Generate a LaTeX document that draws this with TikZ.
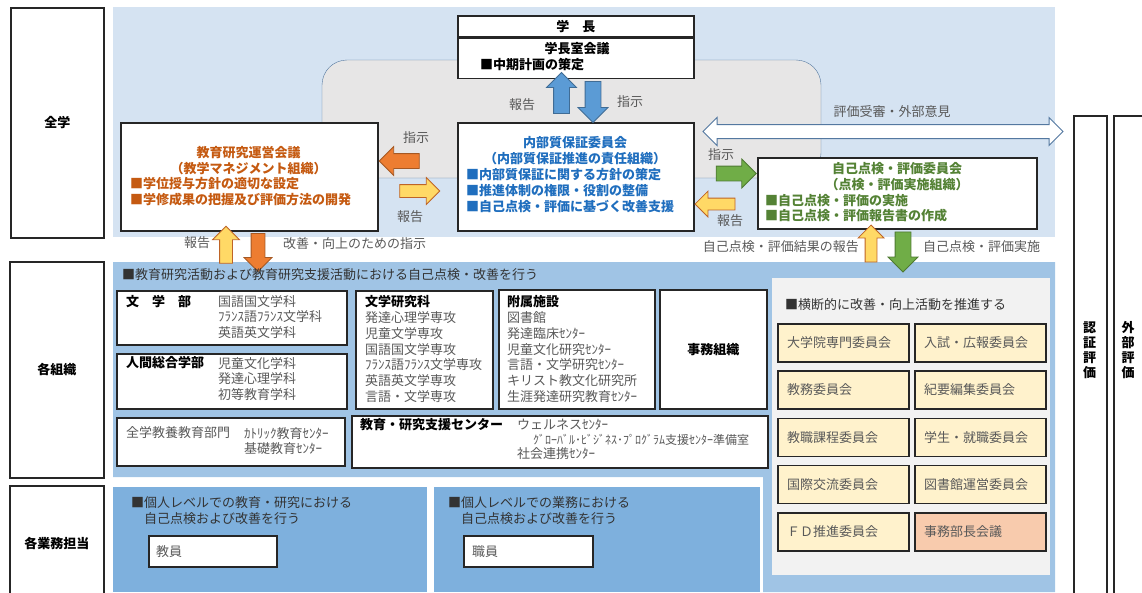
\documentclass[tikz,border=0pt]{standalone}
\usepackage{fontspec}
\setmainfont{Noto Sans CJK JP}
\usetikzlibrary{shapes.arrows,positioning}

\definecolor{zengakublue}{RGB}{213,227,242}
\definecolor{soshikiblue}{RGB}{160,196,229}
\definecolor{tantoublue}{RGB}{126,176,221}
\definecolor{hallgray}{RGB}{231,230,230}
\definecolor{panelgray}{RGB}{242,242,242}
\definecolor{rimblue}{RGB}{84,120,160}
\definecolor{uneiorange}{RGB}{197,90,17}
\definecolor{naibublue}{RGB}{31,110,190}
\definecolor{jikogreen}{RGB}{84,130,53}
\definecolor{notegray}{RGB}{89,89,89}
\definecolor{cream}{RGB}{255,242,204}
\definecolor{peach}{RGB}{248,203,173}
\definecolor{arrowblue}{RGB}{91,155,213}
\definecolor{arroworange}{RGB}{237,125,49}
\definecolor{arrowyellow}{RGB}{255,217,102}
\definecolor{arrowgreen}{RGB}{112,173,71}

\newcommand{\jsize}{\fontsize{13pt}{15.7pt}\selectfont}

\begin{document}
\begin{tikzpicture}[x=1pt,y=-1pt,
every node/.style={inner sep=0pt, font=\jsize},
sidebox/.style={draw=black!85, line width=1.5pt, fill=white, anchor=north west, font=\jsize\bfseries},
frame/.style={draw=black!85, line width=1.5pt, fill=white, anchor=north west},
cmtbox/.style={draw=black!85, line width=1.5pt, anchor=north west, minimum width=131, minimum height=38},
head/.style={font=\jsize\bfseries},
note/.style={text=notegray},
blockarrow/.style={single arrow, inner xsep=0pt, single arrow head extend=7pt, line width=0.8pt}
]
\useasboundingbox (0,0) rectangle (1142,592);

%Regions
\fill[zengakublue] (113,7) rectangle (1055,237);
\draw[rimblue, fill=hallgray, rounded corners=25pt] (322,60) rectangle (821,178);
\fill[soshikiblue] (113,262) -- (1055,262) -- (1055,592) -- (763,592) -- (763,477) -- (113,477) -- cycle;
\fill[tantoublue] (113,487) rectangle (427,592);
\fill[tantoublue] (434,487) rectangle (760,592);
\fill[panelgray] (772,278) rectangle (1050,575);

%Side labels
\node[sidebox, minimum width=93, minimum height=230] (zengaku) at (10,7) {全学};
\node[sidebox, minimum width=94, minimum height=216] (kakusoshiki) at (9,261) {各組織};
\node[sidebox, minimum width=94, minimum height=115] (kakutanto) at (9,485) {各業務担当};
\node[sidebox, minimum width=33, minimum height=490] (ninsho) at (1073,115) {};
\node[sidebox, minimum width=40, minimum height=490] (gaibuhyoka) at (1113,115) {};
\node[head, align=center, font=\fontsize{13pt}{15pt}\selectfont\bfseries] (ninshotext) at (1089.5,350) {認\\証\\評\\価};
\node[head, align=center, font=\fontsize{13pt}{15pt}\selectfont\bfseries] (gaibutext) at (1128,350) {外\\部\\評\\価};

%Nodes
\node[frame, minimum width=236, minimum height=21, font=\jsize\bfseries] (gakucho) at (457,15) {学　長};
\node[frame, minimum width=236, minimum height=40, below=0pt of gakucho] (gakuchoshitsu) {};
\node[head] (shitsukaigi) at (577,49) {学長室会議};
\node[head, anchor=west] (chuki) at (480,65) {■中期計画の策定};

\node[frame, minimum width=257, minimum height=108] (unei) at (120,122) {};
\node[head, text=uneiorange, align=center] (ueinametl) at (248.5,160.5) {教育研究運営会議\\（教学マネジメント組織）};
\node[head, text=uneiorange, align=left, anchor=west] (ueinamebl) at (130,191.5) {■学位授与方針の適切な設定\\■学修成果の把握及び評価方法の開発};

\node[frame, minimum width=236, minimum height=108] (naibu) at (457,122) {};
\node[head, text=naibublue, align=center] (naibutl) at (575,150.5) {内部質保証委員会\\（内部質保証推進の責任組織）};
\node[head, text=naibublue, align=left, anchor=west] (naibubl) at (466,190.5) {■内部質保証に関する方針の策定\\■推進体制の権限・役割の整備\\■自己点検・評価に基づく改善支援};

\node[frame, minimum width=279, minimum height=71] (jiko) at (757,157) {};
\node[head, text=jikogreen, align=center] (jikotl) at (897,176.5) {自己点検・評価委員会\\（点検・評価実施組織）};
\node[head, text=jikogreen, align=left, anchor=west] (jikobl) at (765,208) {■自己点検・評価の実施\\■自己点検・評価報告書の作成};

%Arrows
\node[blockarrow, fill=arrowblue, draw=arrowblue!70!black, inner ysep=7.5pt, minimum height=41, rotate=90] (hokokuup) at (561.5,97) {};
\node[blockarrow, fill=arrowblue, draw=arrowblue!70!black, inner ysep=7.5pt, minimum height=41, rotate=-90] (shijidown) at (593,98) {};
\node[blockarrow, fill=arroworange, draw=arroworange!70!black, inner ysep=7pt, minimum height=40, rotate=180] (uneishiji) at (403,161) {};
\node[blockarrow, fill=arrowyellow, draw=arroworange!80!black, inner ysep=6pt, minimum height=40] (uneihokoku) at (416.5,191) {};
\node[blockarrow, fill=arrowgreen, draw=arrowgreen!70!black, inner ysep=7pt, minimum height=40] (jikoshiji) at (732.5,173.5) {};
\node[blockarrow, fill=arrowyellow, draw=arroworange!80!black, inner ysep=5.5pt, minimum height=40, rotate=180] (jikohokoku) at (718,204) {};
\node[blockarrow, fill=arrowyellow, draw=arroworange!80!black, inner ysep=6pt, minimum height=37, rotate=90] (soshikihokoku) at (226,248) {};
\node[blockarrow, fill=arroworange, draw=arroworange!70!black, inner ysep=6.5pt, minimum height=38, rotate=-90] (soshikishiji) at (258,249) {};
\node[blockarrow, fill=arrowyellow, draw=arroworange!80!black, inner ysep=5.5pt, minimum height=37, rotate=90] (kekkahokoku) at (871,246.5) {};
\node[blockarrow, fill=arrowgreen, draw=arrowgreen!70!black, inner ysep=7.5pt, minimum height=40, rotate=-90] (jisshi) at (903,248) {};
\node[double arrow, inner xsep=0pt, inner ysep=6.5pt, double arrow head extend=7pt, minimum height=360, fill=white, draw=rimblue, line width=1pt] (gaibuiken) at (883,131.5) {};

%Arrow labels
\node[note] (hokokulbl) at (522,105) {報告};
\node[note] (shijilbl) at (630,102) {指示};
\node[note] (uneishijilbl) at (416,138) {指示};
\node[note] (uneihokokulbl) at (410,217) {報告};
\node[note] (jikoshijilbl) at (721,155) {指示};
\node[note] (jikohokokulbl) at (730,221) {報告};
\node[note] (gaibulbl) at (892,112) {評価受審・外部意見};
\node[note] (soshikihokokulbl) at (197,243) {報告};
\node[note, anchor=west] (kaizenlbl) at (283,244) {改善・向上のための指示};
\node[note, anchor=east] (kekkalbl) at (859,247) {自己点検・評価結果の報告};
\node[note, anchor=west] (jisshilbl) at (923,247) {自己点検・評価実施};

%Organisations
\node[anchor=west, text=black!80] (soshikititle) at (122,275) {■教育研究活動および教育研究支援活動における自己点検・改善を行う};

\node[frame, minimum width=230, minimum height=54] (bungakubu) at (116,290) {};
\node[head, anchor=west] (bungakubuname) at (126,302) {文　学　部};
\node[note, align=left, anchor=west] (bungakubudept) at (218,317) {国語国文学科\\ﾌﾗﾝｽ語ﾌﾗﾝｽ文学科\\英語英文学科};

\node[frame, minimum width=230, minimum height=55] (ningen) at (116,353) {};
\node[head, anchor=west] (ningenname) at (126,363) {人間総合学部};
\node[note, align=left, anchor=west] (ningendept) at (218,379) {児童文化学科\\発達心理学科\\初等教育学科};

\node[frame, minimum width=228, minimum height=48] (kyoyo) at (116,417) {};
\node[note, anchor=west] (kyoyoname) at (126,433) {全学教養教育部門};
\node[note, align=left, anchor=west] (kyoyocenter) at (244,441) {ｶﾄﾘｯｸ教育ｾﾝﾀｰ\\基礎教育ｾﾝﾀｰ};

\node[frame, minimum width=137, minimum height=118] (kenkyuka) at (355,290) {};
\node[note, align=left, anchor=west] (kenkyukadept) at (365,349) {\textcolor{black}{\bfseries 文学研究科}\\発達心理学専攻\\児童文学専攻\\国語国文学専攻\\ﾌﾗﾝｽ語ﾌﾗﾝｽ文学専攻\\英語英文学専攻\\言語・文学専攻};

\node[frame, minimum width=156, minimum height=119] (fuzoku) at (498,289) {};
\node[note, align=left, anchor=west] (fuzokudept) at (507,349) {\textcolor{black}{\bfseries 附属施設}\\図書館\\発達臨床ｾﾝﾀｰ\\児童文化研究ｾﾝﾀｰ\\言語・文学研究ｾﾝﾀｰ\\キリスト教文化研究所\\生涯発達研究教育ｾﾝﾀｰ};

\node[frame, minimum width=107, minimum height=119, font=\jsize\bfseries] (jimu) at (659,289) {事務組織};

\node[frame, minimum width=416, minimum height=52] (shien) at (351,415) {};
\node[head, anchor=west] (shienname) at (360,425) {教育・研究支援センター};
\node[note, align=left, anchor=west, font=\fontsize{13pt}{14.3pt}\selectfont] (shiendept) at (517,439.5) {ウェルネスｾﾝﾀｰ\\\hspace*{16pt}{\fontsize{12pt}{14.3pt}\selectfont ｸﾞﾛｰﾊﾞﾙ･ﾋﾞｼﾞﾈｽ･ﾌﾟﾛｸﾞﾗﾑ支援ｾﾝﾀｰ準備室}\\社会連携ｾﾝﾀｰ};

%Committees
\node[anchor=west, text=black!80] (ondantitle) at (785,305) {■横断的に改善・向上活動を推進する};
\foreach \cname/\ctext/\cx/\cy/\cfill in {daigakuin/大学院専門委員会/777/0/cream, nyushi/入試・広報委員会/914/0/cream, kyomu/教務委員会/777/1/cream, kiyo/紀要編集委員会/914/1/cream, kyoshoku/教職課程委員会/777/2/cream, gakusei/学生・就職委員会/914/2/cream, kokusai/国際交流委員会/777/3/cream, toshokan/図書館運営委員会/914/3/cream, fd/ＦＤ推進委員会/777/4/cream, jimubucho/事務部長会議/914/4/peach}
{
\node[cmtbox, fill=\cfill] (\cname) at (\cx,323+47.3*\cy) {};
\node[note, anchor=west] (\cname-t) at ([xshift=10pt]\cname.west) {\ctext};
}

%Individual level
\node[anchor=west, align=left, text=black!80] (kojinkyoin) at (131,510.5) {■個人レベルでの教育・研究における\\\hspace*{13pt}自己点検および改善を行う};
\node[frame, minimum width=128, minimum height=31] (kyoin) at (148,535) {};
\node[note, anchor=west] (kyointext) at ([xshift=8pt]kyoin.west) {教員};

\node[anchor=west, align=left, text=black!80] (kojinshokuin) at (448,510.5) {■個人レベルでの業務における\\\hspace*{13pt}自己点検および改善を行う};
\node[frame, minimum width=129, minimum height=31] (shokuin) at (463,535) {};
\node[note, anchor=west] (shokuintext) at ([xshift=9pt]shokuin.west) {職員};

\end{tikzpicture}
\end{document}
